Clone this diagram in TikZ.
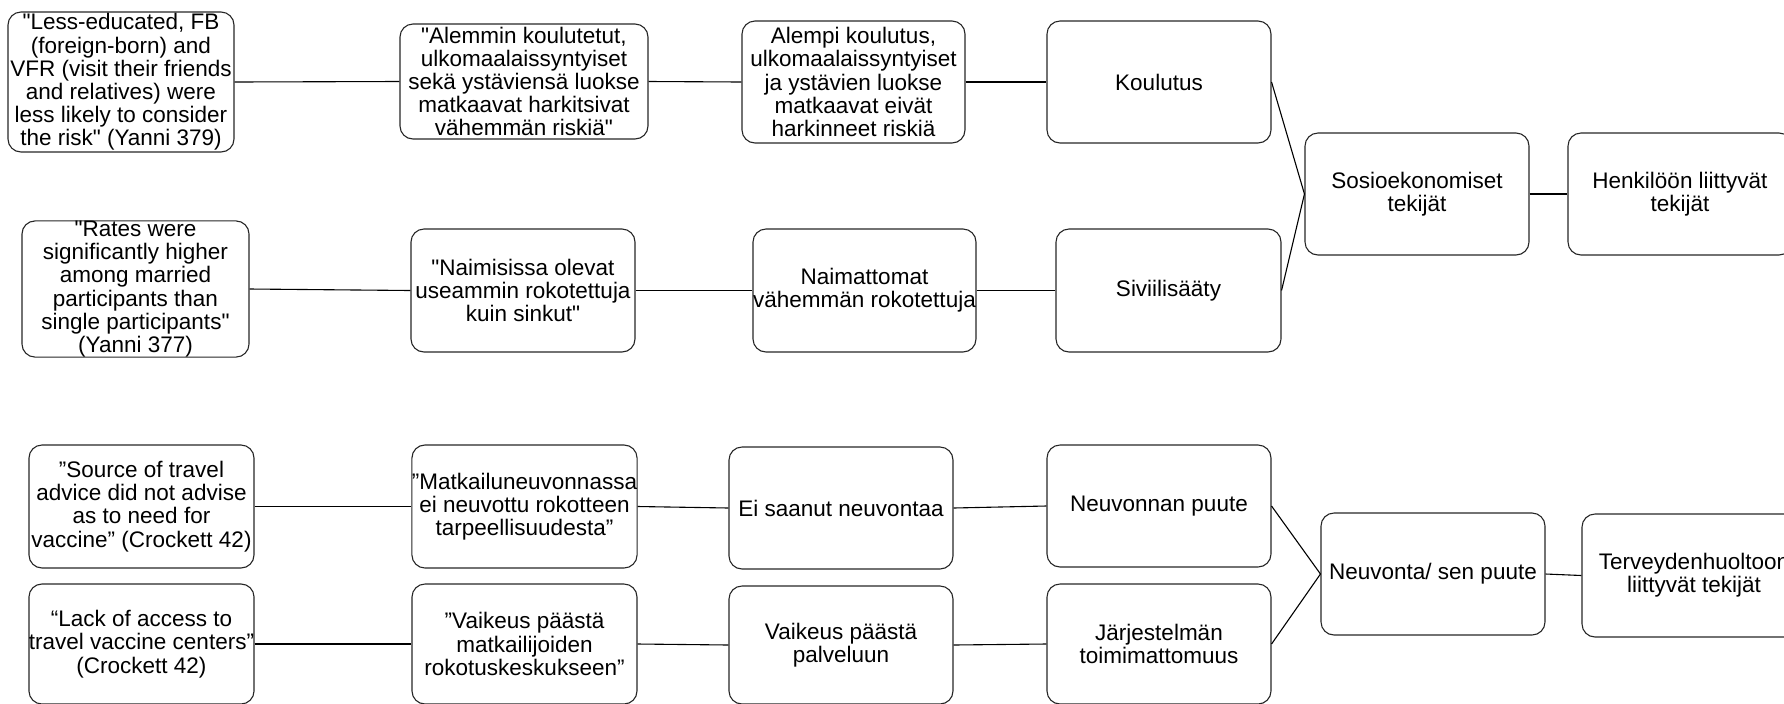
\documentclass[tikz,border=0pt]{standalone}
\usepackage{fontspec}
% keep the straight " as typed; curly quotes are entered as Unicode
\setmainfont{Liberation Sans}[Ligatures=TeXOff]
\begin{document}
\begin{tikzpicture}[x=0.5pt,y=-0.5pt,
  box/.style={draw=black!85, line width=0.55pt, rounded corners=6.5pt,
    align=center, inner sep=0pt, font=\fontsize{11.25}{11.6}\selectfont,
    minimum width=112pt, minimum height=61pt},
  link/.style={draw=black, line width=0.55pt}]
\useasboundingbox (0,0) rectangle (1784,703);
\clip (0,0) rectangle (1784,703);

% --- education chain
\node[box, minimum width=113pt, minimum height=70pt] (a1) at (121,82)
  {"Less-educated, FB\\(foreign-born) and\\VFR (visit their friends\\and relatives) were\\less likely to consider\\the risk" (Yanni 379)};
\node[box, minimum width=124pt, minimum height=57.5pt] (a2) at (524,81.5)
  {"Alemmin koulutetut,\\ulkomaalaissyntyiset\\sekä ystäviensä luokse\\matkaavat harkitsivat\\vähemmän riskiä"};
\node[box, minimum width=111.5pt] (a3) at (853.5,82)
  {Alempi koulutus,\\ulkomaalaissyntyiset\\ja ystävien luokse\\matkaavat eivät\\harkinneet riskiä};
\node[box] (a4) at (1159,82) {Koulutus};

% --- marital status chain
\node[box, minimum width=113.5pt, minimum height=66pt] (b1) at (135.5,289)
  {"Rates were\\significantly higher\\among married\\participants than\\single participants"\\(Yanni 377)};
\node[box, minimum height=61.5pt] (b2) at (523,290.5)
  {"Naimisissa olevat\\useammin rokotettuja\\kuin sinkut"};
\node[box, minimum width=111.5pt, minimum height=61.5pt] (b3) at (864.5,290.5)
  {Naimattomat\\vähemmän rokotettuja};
\node[box, minimum width=112.5pt, minimum height=61.5pt] (b4) at (1168.5,290.5)
  {Siviilisääty};

% --- socioeconomic group
\node[box] (s) at (1417,194) {Sosioekonomiset\\tekijät};
\node[box] (h) at (1680,194) {Henkilöön liittyvät\\tekijät};

% --- counselling chain
\node[box, minimum width=112.5pt, minimum height=61.5pt] (c1) at (141.5,506.5)
  {”Source of travel\\advice did not advise\\as to need for\\vaccine” (Crockett 42)};
\node[box, minimum width=112.5pt, minimum height=61.5pt] (c2) at (524.5,506.5)
  {”Matkailuneuvonnassa\\ei neuvottu rokotteen\\tarpeellisuudesta”};
\node[box] (c3) at (841,508) {Ei saanut neuvontaa};
\node[box] (c4) at (1159,506) {Neuvonnan puute};

% --- access chain
\node[box, minimum width=112.5pt, minimum height=60pt] (d1) at (141.5,644)
  {“Lack of access to\\travel vaccine centers”\\(Crockett 42)};
\node[box, minimum width=112.5pt, minimum height=60pt] (d2) at (524.5,644)
  {”Vaikeus päästä\\matkailijoiden\\rokotuskeskukseen”};
\node[box, minimum height=59pt] (d3) at (841,645) {Vaikeus päästä\\palveluun};
\node[box, minimum height=60pt] (d4) at (1159,644) {Järjestelmän\\toimimattomuus};

% --- health care group
\node[box] (n) at (1433,574) {Neuvonta/ sen puute};
\node[box, minimum height=61.5pt] (t) at (1694,575.5) {Terveydenhuoltoon\\liittyvät tekijät};

% --- connectors
\draw[link] (a1.east) -- (a2.west);
\draw[link] (a2.east) -- (a3.west);
\draw[link] (a3.east) -- (a4.west);
\draw[link] (a4.east) -- (s.west);
\draw[link] (b1.east) -- (b2.west);
\draw[link] (b2.east) -- (b3.west);
\draw[link] (b3.east) -- (b4.west);
\draw[link] (b4.east) -- (s.west);
\draw[link] (s.east) -- (h.west);
\draw[link] (c1.east) -- (c2.west);
\draw[link] (c2.east) -- (c3.west);
\draw[link] (c3.east) -- (c4.west);
\draw[link] (c4.east) -- (n.west);
\draw[link] (d1.east) -- (d2.west);
\draw[link] (d2.east) -- (d3.west);
\draw[link] (d3.east) -- (d4.west);
\draw[link] (d4.east) -- (n.west);
\draw[link] (n.east) -- (t.west);
\end{tikzpicture}
\end{document}
